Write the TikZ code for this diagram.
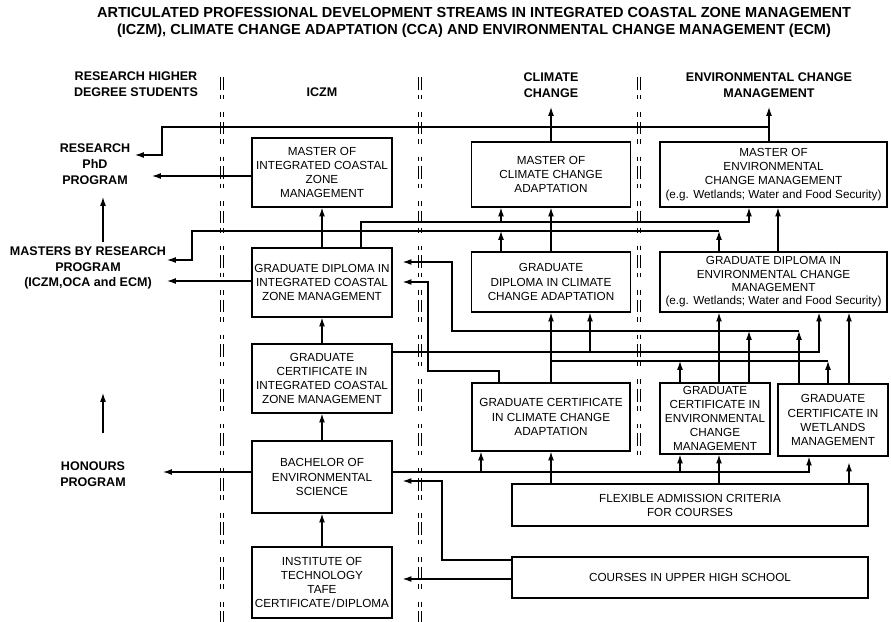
\documentclass[tikz,border=0pt]{standalone}
\usepackage{fontspec}
\setmainfont{Liberation Sans}
\usetikzlibrary{arrows.meta}

\tikzset{
  box/.style={draw, line width=1.1pt, inner sep=0pt, align=center,
    font=\fontsize{10}{12}\selectfont},
  sz/.style 2 args={minimum width=#1*0.03cm, minimum height=#2*0.03cm},
  head/.style={align=center, inner sep=0pt,
    font=\bfseries\fontsize{10.7}{13.5}\selectfont},
  link/.style={line width=1pt},
  arr/.style={link, -{Latex[length=7.5pt,width=5pt]}},
  gap/.style={shorten >=8.5pt},
  divider/.style={line width=0.65pt,
    dash pattern=on 11pt off 4pt on 4pt off 11pt on 4pt off 4pt}
}

\begin{document}
\begin{tikzpicture}[x=0.03cm, y=-0.03cm]
  \useasboundingbox (0,0) rectangle (891,622);

  % title and column heads
  \node[align=center, font=\bfseries\fontsize{12.4}{14.5}\selectfont] (title) at (474,22.5)
    {ARTICULATED PROFESSIONAL DEVELOPMENT STREAMS IN INTEGRATED COASTAL ZONE MANAGEMENT\\
     (ICZM), CLIMATE CHANGE ADAPTATION (CCA) AND ENVIRONMENTAL CHANGE MANAGEMENT (ECM)};
  \node[head] (hRHD) at (136,84) {RESEARCH HIGHER\\DEGREE STUDENTS};
  \node[head] (hICZM) at (322,92) {ICZM};
  \node[head] (hCC) at (551,85) {CLIMATE\\CHANGE};
  \node[head] (hECM) at (769,85) {ENVIRONMENTAL CHANGE\\MANAGEMENT};

  % left hand programs
  \node[head] (lPhD) at (95,164) {RESEARCH\\PhD\\PROGRAM};
  \node[head] (lMres) at (88,268) {MASTERS BY RESEARCH\\PROGRAM\\(ICZM,OCA and ECM)};
  \node[head] (lHon) at (93,474) {HONOURS\\PROGRAM};

  % stream dividers
  \foreach \dx in {-1.2pt,1.2pt} {
    \draw[divider, xshift=\dx] (222,77) -- (222,622);
    \draw[divider, xshift=\dx] (420,77) -- (420,622);
    \draw[divider, xshift=\dx] (639,77) -- (639,455);
  }

  % ICZM stream
  \node[box, sz={140}{69}] (mICZM) at (322,172.5) {MASTER OF\\INTEGRATED COASTAL\\ZONE\\MANAGEMENT};
  \node[box, sz={140}{69}] (gdICZM) at (322,282.5) {GRADUATE DIPLOMA IN\\INTEGRATED COASTAL\\ZONE MANAGEMENT};
  \node[box, sz={140}{69}] (gcICZM) at (322,378.5) {GRADUATE\\CERTIFICATE IN\\INTEGRATED COASTAL\\ZONE MANAGEMENT};
  \node[box, sz={140}{72}] (bES) at (322,477) {BACHELOR OF\\ENVIRONMENTAL\\SCIENCE};
  \node[box, sz={140}{71}] (iTech) at (322,582.5) {INSTITUTE OF\\TECHNOLOGY\\TAFE\\CERTIFICATE\kern1pt/\kern1pt DIPLOMA};

  % climate change stream
  \node[box, sz={159}{65}] (mCCA) at (551,174.5) {MASTER OF\\CLIMATE CHANGE\\ADAPTATION};
  \node[box, sz={159}{60}] (gdCCA) at (551,282) {GRADUATE\\DIPLOMA IN CLIMATE\\CHANGE ADAPTATION};
  \node[box, sz={158}{68}] (gcCCA) at (551,417) {GRADUATE CERTIFICATE\\IN CLIMATE CHANGE\\ADAPTATION};

  % environmental change stream
  \node[box, sz={227}{65}] (mECM) at (773.5,174.5) {MASTER OF\\ENVIRONMENTAL\\CHANGE MANAGEMENT\\(e.g. Wetlands; Water and Food Security)};
  \node[box, sz={227}{60}, font=\fontsize{10}{11.4}\selectfont] (gdECM) at (773.5,282) {GRADUATE DIPLOMA IN\\ENVIRONMENTAL CHANGE\\MANAGEMENT\\(e.g. Wetlands; Water and Food Security)};
  \node[box, sz={110}{71}] (gcECM) at (715,418.5) {GRADUATE\\CERTIFICATE IN\\ENVIRONMENTAL\\CHANGE\\MANAGEMENT};
  \node[box, sz={110}{72}] (gcWet) at (833,420) {GRADUATE\\CERTIFICATE IN\\WETLANDS\\MANAGEMENT};

  % entry
  \node[box, sz={356}{42}] (flex) at (690,505) {FLEXIBLE ADMISSION CRITERIA\\FOR COURSES};
  \node[box, sz={356}{41}] (upper) at (690,577.5) {COURSES IN UPPER HIGH SCHOOL};

  % free ends and guides
  \coordinate (phdA) at (135,155);
  \coordinate (phdB) at (152,176);
  \coordinate (mresA) at (167,260);
  \coordinate (mresB) at (167,281);
  \coordinate (honA) at (163,472);
  \coordinate (upA1) at (103,242);
  \coordinate (upA2) at (103,197);
  \coordinate (upB1) at (103,433);
  \coordinate (upB2) at (103,393);
  \coordinate (ccTip) at (551,107);
  \coordinate (ecmTip) at (769,107);
  \coordinate (topR) at (769,127);
  \coordinate (topL) at (162,127);
  \coordinate (midL) at (192,231);
  \foreach \v in {361,428,442,452,481,499,501,590,680,719,749,778,799,809,819,828,849}
    \coordinate (x\v) at (\v,0);
  \foreach \v in {222,231,262,282,331,352,361,371,472,481,560,579}
    \coordinate (y\v) at (0,\v);

  % ICZM ladder
  \draw[arr] (iTech) -- (bES);
  \draw[arr] (bES) -- (gcICZM);
  \draw[arr] (gcICZM) -- (gdICZM);
  \draw[arr] (gdICZM) -- (mICZM);

  % out to research and honours
  \draw[arr] (mICZM.west |- phdB) -- (phdB);
  \draw[arr] (gdICZM.west |- mresB) -- (mresB);
  \draw[arr] (bES.west |- honA) -- (honA);
  \draw[arr] (upA1) -- (upA2);
  \draw[arr] (upB1) -- (upB2);
  \draw[arr] (mCCA.north -| ccTip) -- (ccTip);
  \draw[arr] (mECM.north -| ecmTip) -- (ecmTip);
  \draw[arr] (topR) -- (topL) |- (phdA);

  % into the masters
  \draw[arr] (gdICZM.north -| x361) |- (x749 |- y222) -- (mECM.south -| x749);
  \draw[arr] (x501 |- y222) -- (mCCA.south -| x501);
  \draw[arr] (gdCCA) -- (mCCA);
  \draw[arr] (gdECM.north -| x778) -- (mECM.south -| x778);
  \draw[arr] (gdCCA.north -| x501) -- (x501 |- y231);
  \draw[arr] (gdECM.north -| x719) -- (x719 |- y231);
  \draw[arr] (x719 |- y231) -- (midL) |- (mresA);

  % into the graduate diplomas
  \draw[arr] (gcICZM.east |- y352) -| (gdECM.south -| x819);
  \draw[arr] (x590 |- y352) -- (gdCCA.south -| x590);
  \draw[arr] (gcCCA) -- (gdCCA);
  \draw[link] (gcCCA.north |- y361) -- (x828 |- y361);
  \draw[arr] (gcECM.north -| x680) -- (x680 |- y361);
  \draw[arr] (gcWet.north -| x828) -- (x828 |- y361);
  \draw[arr] (gcECM.north -| x749) -- (x749 |- y331);
  \draw[arr] (gcWet.north -| x799) -- (x799 |- y331);
  \draw[arr, gap] (x799 |- y331) -| (x452 |- y262) -- (gdICZM.east |- y262);
  \draw[arr, gap] (gcCCA.north -| x499) |- (x428 |- y371) |- (gdICZM.east |- y282);
  \draw[arr] (gcECM.north -| x719) -- (gdECM.south -| x719);
  \draw[arr] (gcWet.north -| x849) -- (gdECM.south -| x849);

  % into the graduate certificates
  \draw[arr] (bES.east |- y472) -| (gcWet.south -| x809);
  \draw[arr] (x481 |- y472) -- (gcCCA.south -| x481);
  \draw[arr] (x680 |- y472) -- (gcECM.south -| x680);
  \draw[arr] (flex.north -| gcCCA.south) -- (gcCCA.south);
  \draw[arr] (flex.north -| x719) -- (gcECM.south -| x719);
  \draw[arr, shorten >=5pt] (flex.north -| x849) -- (gcWet.south -| x849);

  % from upper high school
  \draw[arr, gap] (upper.west |- y560) -| (x442 |- y481) -- (bES.east |- y481);
  \draw[arr, gap] (upper.west |- y579) -- (iTech.east |- y579);
\end{tikzpicture}
\end{document}
